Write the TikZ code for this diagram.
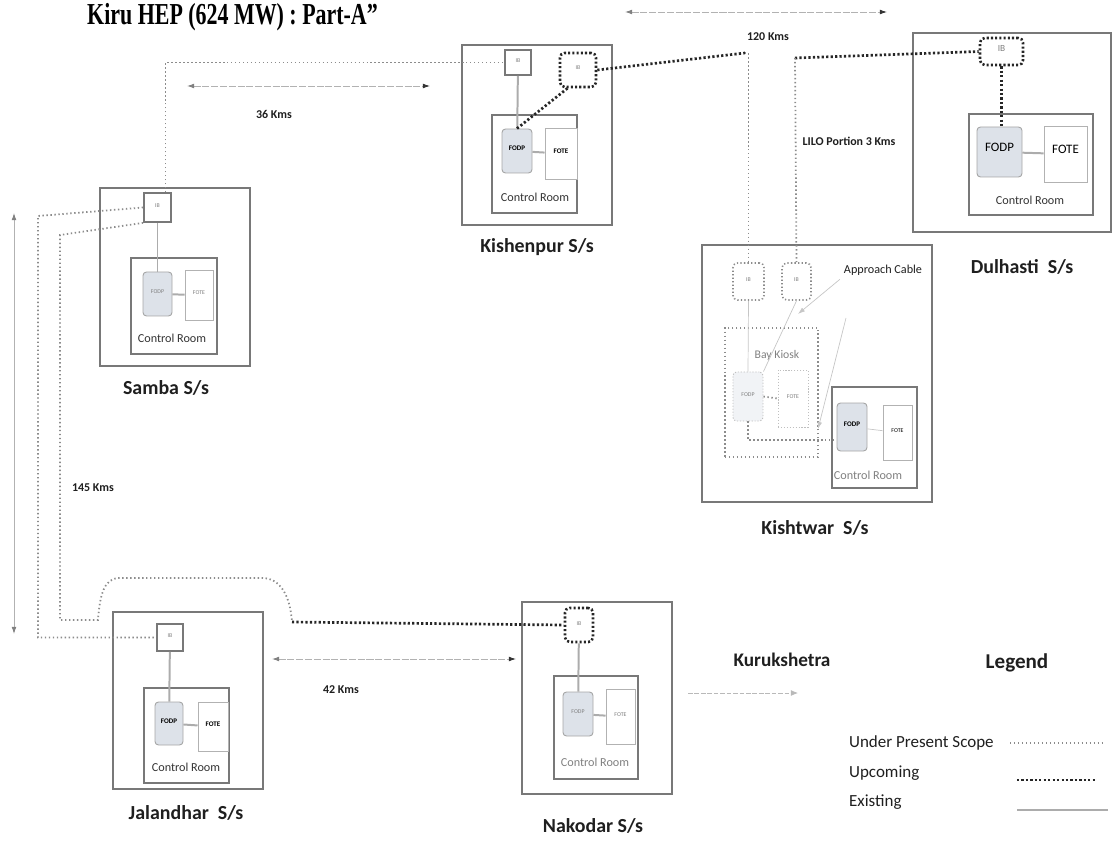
\documentclass[tikz,border=0pt]{standalone}
\usepackage{fontspec}
\setmainfont{Carlito}
\newfontfamily\titlefont{Liberation Serif}
\usetikzlibrary{fit,arrows.meta}
\newcommand\fsz[1]{\fontsize{#1}{#1}\selectfont}
\definecolor{fodpfill}{RGB}{221,226,233}
\definecolor{boxgray}{RGB}{120,120,120}
\tikzset{
  obox/.style={draw=boxgray, line width=1.8pt, inner sep=0pt},
  crbox/.style={draw=boxgray, line width=1.6pt, inner sep=0pt},
  fodp/.style={draw=gray!70, line width=0.8pt, rounded corners=3pt, fill=fodpfill, inner sep=0pt, font=\bfseries\fsz{6}},
  fote/.style={draw=gray!60, line width=0.8pt, fill=white, inner sep=0pt, font=\bfseries\fsz{6}},
  ibx/.style={draw=boxgray, line width=1.5pt, fill=white, inner sep=0pt, text=gray, font=\fsz{5}},
  ibup/.style={draw=black!85, line width=2.2pt, dash pattern=on 1.8pt off 1.8pt, rounded corners=4pt, inner sep=0pt, text=gray, font=\fsz{5}},
  ibsc/.style={draw=black!45, line width=1.4pt, dash pattern=on 1.1pt off 1.9pt, rounded corners=4pt, inner sep=0pt, text=gray, font=\fsz{5}},
  present/.style={draw=black!45, line width=1.5pt, dash pattern=on 1.2pt off 2.2pt},
  upc/.style={draw=black!85, line width=2.3pt, dash pattern=on 1.9pt off 1.9pt},
  exist/.style={draw=gray!65, line width=1.7pt},
  faint/.style={draw=gray!45, line width=0.6pt},
  dimarr/.style={draw=gray!60, line width=0.7pt, dash pattern=on 6pt off 1.5pt,
     {Latex[length=6pt,width=4pt,gray]}-{Latex[length=6pt,width=4pt,black!80]}},
  stn/.style={font=\bfseries\fsz{17}, text=black!88},
  crtxt/.style={font=\fsz{10.4}, text=black!80},
  km/.style={font=\bfseries\fsz{10.2}, text=black!88},
}
\begin{document}
\begin{tikzpicture}[x=0.03cm, y=-0.03cm]
\useasboundingbox (0,0) rectangle (1117,850);

% Title
\node[anchor=west, inner sep=0pt] (title) at (87,17) {\scalebox{0.72}[1]{\titlefont\bfseries\fsz{26}Kiru HEP (624 MW) : Part-A”}};

% ---------- Samba ----------
\node[obox, fit={(100,188)(250,366)}] (sam) {};
\node[ibx, fit={(144,193)(171,222)}] (samIB) {IB};
\node[crbox, fit={(131,258)(217,354)}] (samCR) {};
\node[fodp, fit={(143,272)(172,316)}, font=\fsz{5}, text=gray] (samFODP) {FODP};
\node[fote, fit={(185,270)(213,320)}, font=\fsz{5}, text=gray] (samFOTE) {FOTE};
\node[crtxt] (samCRt) at (172,338) {Control Room};
\node[stn] (samL) at (166,388) {Samba S/s};
\draw[exist] (samIB) -- (samFODP);
\draw[exist] (samFODP) -- (samFOTE);

% ---------- Kishenpur ----------
\node[obox, fit={(462,45)(612,225)}] (kis) {};
\node[ibx, fit={(505,50)(531,75)}] (kisIB) {IB};
\node[ibup, fit={(560,53)(596,87)}] (kisIB2) {IB};
\node[crbox, fit={(492,115)(577,213)}] (kisCR) {};
\node[fodp, fit={(502,129)(532,173)}] (kisFODP) {FODP};
\node[fote, fit={(545,128)(577,179)}] (kisFOTE) {FOTE};
\node[crtxt] (kisCRt) at (535,197) {Control Room};
\node[stn] (kisL) at (537,247) {Kishenpur S/s};
\draw[exist] (kisIB) -- (kisFODP);
\draw[exist] (kisFODP) -- (kisFOTE);
\draw[upc] (kisIB2.240) -- (kisFODP.north);

% ---------- Dulhasti ----------
\node[obox, fit={(913,33)(1111,232)}] (dul) {};
\node[ibup, fit={(980,38)(1023,65)}, font=\fsz{8}] (dulIB) {IB};
\node[crbox, fit={(969,114)(1093,215)}] (dulCR) {};
\node[fodp, fit={(977,127)(1022,177)}, font=\fsz{11}] (dulFODP) {FODP};
\node[fote, fit={(1044,126)(1087,182)}, font=\fsz{11}] (dulFOTE) {FOTE};
\node[crtxt] (dulCRt) at (1030,200) {Control Room};
\node[stn] (dulL) at (1022,267) {Dulhasti~ S/s};
\draw[upc] (dulIB.south) -- (dulIB.south |- dulFODP.north);
\draw[exist] (dulFODP) -- (dulFOTE);

% ---------- Kishtwar ----------
\node[obox, fit={(702,245)(932,502)}] (kw) {};
\node[ibsc, fit={(733,263)(764,300)}] (kwIB1) {IB};
\node[ibsc, fit={(782,263)(811,300)}] (kwIB2) {IB};
\node[present, fit={(725,328)(818,457)}, inner sep=0pt] (kiosk) {};
\node[font=\fsz{10}, text=gray] (kioskt) at (777,355) {Bay Kiosk};
\node[draw=gray!50, line width=0.8pt, dash pattern=on 1pt off 1.5pt, rounded corners=3pt, fill=fodpfill!40, inner sep=0pt, fit={(733,372)(763,421)}, font=\fsz{5}, text=gray] (kwFODPk) {FODP};
\node[draw=gray!50, line width=0.8pt, dash pattern=on 1pt off 1.5pt, fill=white, inner sep=0pt, fit={(778,370)(808,427)}, font=\fsz{5}, text=gray] (kwFOTEk) {FOTE};
\node[crbox, fit={(832,387)(917,488)}] (kwCR) {};
\node[fodp, fit={(837,403)(867,451)}] (kwFODP) {FODP};
\node[fote, fit={(883,405)(912,460)}, font=\fsz{5}] (kwFOTE) {FOTE};
\node[crtxt, text=gray] (kwCRt) at (868,475) {Control Room};
\node[stn] (kwL) at (815,528) {Kishtwar~ S/s};
\draw[faint] (kwIB1.south) -- (kwFODPk.north);
\draw[faint] (kwIB2.south) -- (kwFODPk.north east);
\draw[present] (kwFODPk.east) -- (kwFOTEk.west);
\coordinate (kwc) at (837,440);
\draw[present] (kwFODPk.south) |- (kwc);
\draw[faint] (kwFODP) -- (kwFOTE);
\node[font=\fsz{10.4}, text=black!88] (ac) at (883,270) {Approach Cable};
\coordinate (acA) at (798,314);
\coordinate (acB1) at (846,318);
\coordinate (acB2) at (818,429);
\draw[faint, -{Latex[length=6pt,width=4pt]}] (ac.south west) -- (acA);
\draw[faint, -{Latex[length=6pt,width=4pt]}] (acB1) -- (acB2);

% ---------- Jalandhar ----------
\node[obox, fit={(113,612)(263,789)}] (jal) {};
\node[ibx, fit={(157,624)(183,651)}] (jalIB) {IB};
\node[crbox, fit={(144,688)(229,783)}] (jalCR) {};
\node[fodp, fit={(155,702)(183,745)}] (jalFODP) {FODP};
\node[fote, fit={(198,702)(228,751)}] (jalFOTE) {FOTE};
\node[crtxt] (jalCRt) at (186,767) {Control Room};
\node[stn] (jalL) at (186,813) {Jalandhar~ S/s};
\draw[exist] (jalIB) -- (jalFODP);
\draw[exist] (jalFODP) -- (jalFOTE);

% ---------- Nakodar ----------
\node[obox, fit={(522,602)(672,794)}] (nak) {};
\node[ibup, fit={(565,608)(593,642)}] (nakIB) {IB};
\node[crbox, fit={(554,676)(638,779)}] (nakCR) {};
\node[fodp, fit={(563,692)(593,736)}, font=\fsz{5}, text=gray] (nakFODP) {FODP};
\node[fote, fit={(606,689)(635,744)}, font=\fsz{5}, text=gray] (nakFOTE) {FOTE};
\node[crtxt, text=gray] (nakCRt) at (595,762) {Control Room};
\node[stn] (nakL) at (593,826) {Nakodar S/s};
\draw[exist] (nakIB) -- (nakFODP);
\draw[exist] (nakFODP) -- (nakFOTE);

% ---------- links ----------
\draw[present] ([xshift=0.24cm]samIB.north) |- (kisIB.west);
\coordinate (k1) at (745,53);
\coordinate (k2) at (795,58);
\draw[upc] (kisIB2.east) -- (k1);
\draw[present] (k1) -| (kwIB1.north);
\draw[upc] (k2) -- (dulIB.west);
\draw[present] (k2) -- (kwIB2.north);

\coordinate (l1) at (38,216);
\draw[present] (samIB.west) -- (l1) -- (l1 |- jalIB.west) -- (jalIB.west);
\coordinate (l2) at (60,235);
\coordinate (l3) at (60,620);
\coordinate (l4) at (98,620);
\coordinate (l5) at (292,622);
\draw[present] (samIB.south west) -- (l2) -- (l3) -- (l4)
   .. controls (100,592) and (105,578) .. (120,578) -- (262,578)
   .. controls (280,578) and (290,595) .. (l5);
\draw[upc] (l5) -- (nakIB.west);

% dimension arrows
\coordinate (d36a) at (187,86);  \coordinate (d36b) at (430,86);
\draw[dimarr] (d36a) -- (d36b);
\node[km] (t36) at (274,114) {36 Kms};
\coordinate (d120a) at (625,12); \coordinate (d120b) at (887,12);
\draw[dimarr] (d120a) -- (d120b);
\node[km] (t120) at (768,37) {120 Kms};
\node[km] (tlilo) at (849,141) {LILO Portion 3 Kms};
\coordinate (d145a) at (14,213); \coordinate (d145b) at (14,634);
\draw[draw=gray!60, line width=0.7pt, {Latex[length=6pt,width=4pt,gray]}-{Latex[length=6pt,width=4pt,gray]}] (d145a) -- (d145b);
\node[km] (t145) at (93,488) {145 Kms};
\coordinate (d42a) at (272,659); \coordinate (d42b) at (516,659);
\draw[dimarr] (d42a) -- (d42b);
\node[km] (t42) at (341,690) {42 Kms};

% Kurukshetra
\node[font=\bfseries\fsz{16.4}, text=black!88] (kur) at (782,660) {Kurukshetra};
\coordinate (kua) at (688,693); \coordinate (kub) at (798,693);
\draw[draw=gray!55, line width=0.7pt, dash pattern=on 4pt off 1.5pt, -{Latex[length=6pt,width=5pt]}] (kua) -- (kub);

% Legend
\node[font=\bfseries\fsz{18}, text=black!88] (leg) at (1017,663) {Legend};
\node[anchor=west, font=\fsz{14.5}, text=black!88] (lg1) at (845,743) {Under Present Scope};
\node[anchor=west, font=\fsz{14.5}, text=black!88] (lg2) at (845,773) {Upcoming};
\node[anchor=west, font=\fsz{14.5}, text=black!88] (lg3) at (845,802) {Existing};
\coordinate (lg1a) at (1010,743); \coordinate (lg1b) at (1103,743);
\coordinate (lg2a) at (1017,780); \coordinate (lg2b) at (1097,780);
\coordinate (lg3a) at (1017,810); \coordinate (lg3b) at (1108,810);
\draw[present] (lg1a) -- (lg1b);
\draw[upc] (lg2a) -- (lg2b);
\draw[exist] (lg3a) -- (lg3b);
\end{tikzpicture}
\end{document}
